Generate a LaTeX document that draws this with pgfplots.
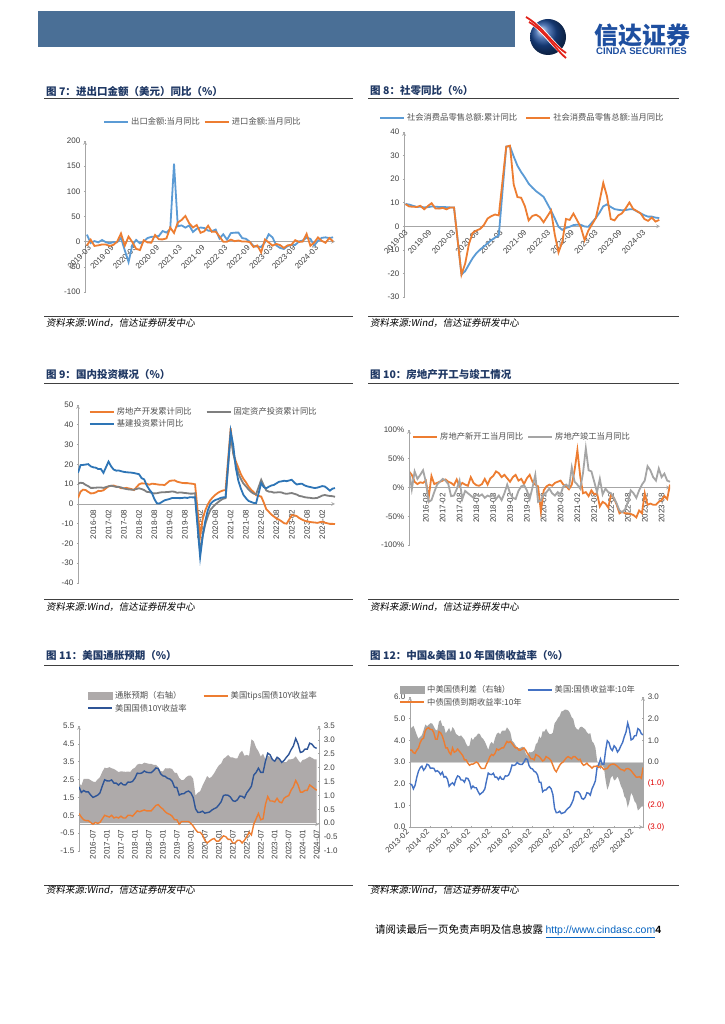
\documentclass[border=0pt]{standalone}
\usepackage{fontspec}
\setmainfont{Liberation Sans}
\newfontfamily\cjk{Noto Sans CJK SC}
\newfontfamily\cjki[FakeSlant=0.18]{Noto Sans CJK SC}
\usepackage{pgfplots}
\usepackage{pgfplotstable}
\pgfplotsset{compat=1.18}

\definecolor{cblue}{HTML}{5B9BD5}
\definecolor{corange}{HTML}{ED7D31}
\definecolor{cgray}{HTML}{7F7F7F}
\definecolor{clgray}{HTML}{A5A5A5}
\definecolor{c9blue}{HTML}{2E75B6}
\definecolor{cnavy}{HTML}{2F5597}
\definecolor{croyal}{HTML}{4472C4}
\definecolor{area11}{HTML}{AEAAAA}
\definecolor{area12}{HTML}{A6A6A6}
\definecolor{axc}{HTML}{A6A6A6}
\definecolor{tlc}{HTML}{404040}
\definecolor{lgc}{HTML}{505050}
\definecolor{titlec}{HTML}{1F3864}
\definecolor{rulec}{HTML}{404040}
\definecolor{hdr}{HTML}{4A6F96}
\definecolor{logob}{HTML}{1D4E9E}
\definecolor{logor}{HTML}{E2231A}
\definecolor{logot}{HTML}{1E4FA0}
\definecolor{negred}{HTML}{E00000}
\definecolor{linkc}{HTML}{0563C1}

\pgfplotsset{
  rep/.style={
    scale only axis,
    axis line style={axc, line width=0.7pt, -},
    tick style={axc, line width=0.6pt},
    tick align=outside,
    major tick length=2.5pt,
    ticklabel style={font=\fontsize{8}{9}\selectfont, text=tlc},
    /pgf/number format/assume math mode=true,
    legend style={draw=none, fill=none, font=\cjk\fontsize{8.3}{10}\selectfont, text=lgc},
    legend cell align=left,
    legend image code/.code={\draw[##1, line width=2pt] (0pt,0pt) -- (24pt,0pt);},
  },
  midx/.style={axis y line=left, axis x line=middle, xtick style={draw=none}},
}

% fig 7: export / import yoy, 2019-03 .. 2024-08
\pgfplotstableread{
ex im
14.0 -7.6
-2.7 4.0
1.1 -8.5
-1.3 -7.3
3.3 -5.6
-1.0 -5.6
-3.2 -8.5
-0.9 -6.4
-1.1 0.3
7.6 16.3
-17.2 -8.0
-40.6 10.0
-6.6 -0.9
3.5 -14.2
-3.3 -16.7
0.5 2.7
7.2 -1.4
9.5 -2.1
9.9 13.2
11.4 4.7
21.1 4.5
18.1 6.5
25.0 28.0
154.9 17.3
30.6 38.1
32.3 43.1
27.9 51.1
32.2 36.7
19.3 28.1
25.6 33.1
28.1 17.6
27.1 20.6
22.0 31.7
20.9 19.5
24.1 20.0
6.2 10.4
14.7 -0.1
3.9 0.0
16.9 4.1
17.9 1.0
18.0 2.3
7.1 0.3
5.7 0.3
-0.3 -0.7
-8.7 -10.6
-9.9 -7.5
-10.5 -21.3
-1.3 4.2
14.8 -1.4
8.5 -7.9
-7.5 -4.5
-12.4 -6.8
-14.5 -12.4
-8.8 -7.3
-6.2 -6.2
-6.4 3.0
0.5 -0.6
2.3 0.2
8.0 15.5
5.6 -8.2
-7.5 -1.9
1.5 8.4
7.6 1.8
8.6 -2.3
7.0 7.2
8.7 0.5
}\tabA

% fig 8: retail sales, x = months since 2019-01
\pgfplotstableread{
x cum mon
-2 9.5 9.4
-1 9.2 8.4
1 8.2 8.2
2 8.3 8.7
3 8.0 7.2
4 8.1 8.6
5 8.4 9.8
6 8.3 7.6
7 8.2 7.5
8 8.2 7.8
9 8.1 7.2
10 8.0 8.0
11 8.0 8.0
13 -20.5 -20.5
14 -19.0 -15.8
15 -16.2 -7.5
16 -13.5 -2.8
17 -11.4 -1.8
18 -9.9 -1.1
19 -8.6 0.5
20 -7.2 3.3
21 -5.9 4.3
22 -4.8 5.0
23 -3.9 4.6
25 33.8 33.8
26 33.9 34.2
27 29.6 17.7
28 25.7 12.4
29 23.0 12.1
30 20.7 8.5
31 18.1 2.5
32 16.4 4.4
33 14.9 4.9
34 13.7 3.9
35 12.5 1.7
37 6.7 6.7
38 3.3 -3.5
39 -0.2 -11.1
40 -1.5 -6.7
41 -0.7 3.1
42 -0.2 2.7
43 0.5 5.4
44 0.7 2.5
45 0.6 -0.5
46 -0.1 -5.9
47 -0.2 -1.8
49 3.5 3.5
50 5.8 10.6
51 8.5 18.4
52 9.3 12.7
53 8.2 3.1
54 7.3 2.5
55 7.0 4.6
56 6.8 5.5
57 6.9 7.6
58 7.2 10.1
59 7.2 7.4
61 5.5 5.5
62 4.7 3.1
63 4.1 2.3
64 4.1 3.7
65 3.7 2.0
66 3.5 2.7
}\tabB

% fig 9: investment, x = months since 2016-02
\pgfplotstableread{
x re fai inf
0 3.0 10.2 15.7
1 6.2 10.7 19.6
2 7.2 10.5 19.7
3 7.0 9.6 19.9
4 6.1 9.0 20.1
5 5.3 8.1 19.0
6 5.4 8.1 18.5
7 5.8 8.2 18.3
8 6.6 8.3 17.6
9 6.5 8.3 17.6
10 6.9 8.1 15.7
12 8.9 8.9 21.4
13 9.1 9.2 19.0
14 9.3 8.9 17.4
15 8.8 8.6 16.8
16 8.5 8.6 16.9
17 7.9 8.3 16.5
18 7.9 7.8 16.2
19 8.1 7.5 16.0
20 7.8 7.3 15.9
21 7.5 7.2 15.8
22 7.0 7.2 15.6
24 9.9 7.9 15.0
25 10.4 7.5 13.0
26 10.3 7.0 12.4
27 10.2 6.1 9.4
28 9.7 6.0 7.3
29 10.2 5.5 5.7
30 10.1 5.3 2.5
31 9.9 5.4 0.3
32 9.7 5.7 0.2
33 9.7 5.9 1.0
34 9.5 5.9 1.8
36 11.6 6.1 2.5
37 11.8 6.3 3.0
38 11.9 6.1 3.0
39 11.2 5.6 3.0
40 10.9 5.8 2.9
41 10.6 5.7 3.0
42 10.5 5.5 3.2
43 10.5 5.4 3.0
44 10.3 5.2 3.4
45 10.2 5.2 3.3
46 9.9 5.4 3.3
48 -16.3 -24.5 -26.9
49 -7.7 -16.1 -16.4
50 -3.3 -10.3 -8.8
51 -0.3 -6.3 -3.3
52 1.9 -3.1 -0.1
53 3.4 -1.6 1.2
54 4.6 -0.3 2.0
55 5.6 0.8 2.4
56 6.3 1.8 3.0
57 6.8 2.6 3.3
58 7.0 2.9 3.4
60 38.3 35.0 36.6
61 25.6 25.6 29.7
62 21.6 19.9 18.4
63 18.3 15.4 11.8
64 15.0 12.6 7.8
65 12.7 10.3 4.6
66 10.9 8.9 2.9
67 8.8 7.3 1.5
68 7.2 6.1 1.0
69 6.0 5.2 0.5
70 4.4 4.9 0.4
72 3.7 12.2 10.5
73 0.7 9.3 8.5
74 -2.7 6.8 7.9
75 -4.0 6.2 8.7
76 -5.4 6.1 9.3
77 -6.4 5.7 9.6
78 -7.4 5.8 10.4
79 -8.0 5.9 11.2
80 -8.8 5.8 11.4
81 -9.8 5.3 11.7
82 -10.0 5.1 11.5
84 -5.7 5.5 12.2
85 -5.8 5.1 10.8
86 -6.2 4.7 9.8
87 -7.2 4.0 10.1
88 -7.9 3.8 10.2
89 -8.5 3.4 9.4
90 -8.8 3.2 8.9
91 -9.1 3.1 8.6
92 -9.3 2.9 8.3
93 -9.4 2.9 8.0
94 -9.6 3.0 8.2
96 -9.0 4.2 9.0
97 -9.5 4.5 8.8
98 -9.8 4.2 7.8
99 -10.1 4.0 6.7
100 -10.1 3.9 7.7
101 -10.2 3.6 8.0
}\tabC

% fig 10: new starts / completions yoy (%)
\pgfplotstableread{
o g
28 30
22 -3
10 28
6 15
9 22
8 30
12 10
-18 -25
20 -22
6 -8
8 5
10 10
12 15
14 12
10 6
8 -15
4 -14
14 -3
2 12
8 -20
5 -6
3 -10
18 -14
8 -18
4 -12
3 -15
6 -12
15 -18
5 -14
16 -16
20 -12
28 -20
25 -14
18 -22
22 -10
16 5
10 -10
18 -18
22 -20
12 -6
15 2
6 4
16 -5
22 -20
10 0
5 22
2 -25
-42 -22
-5 -12
2 -8
5 -2
3 -10
8 -14
10 -8
12 -12
5 2
2 5
-3 0
5 35
30 10
65 5
20 -2
-10 25
-8 68
-15 30
-5 28
-12 10
-10 -8
-33 15
-25 -12
-28 -2
-35 -8
-12 -10
-18 -18
-30 -28
-45 -40
-42 -43
-45 -38
-45 -25
-46 -5
-48 -10
-52 -18
-40 -5
-45 5
-10 12
-30 37
-28 30
-30 18
-30 12
-25 33
-22 18
-15 24
-20 12
5 10
}\tabD

% fig 11: US breakeven (right), TIPS 10Y, UST 10Y; monthly from 2016-01
\pgfplotstableread{
be tips ust
1.45 0.60 2.09
1.35 0.40 1.78
1.60 0.25 1.89
1.60 0.20 1.81
1.60 0.20 1.81
1.55 0.10 1.64
1.50 0.00 1.50
1.48 0.10 1.56
1.58 0.05 1.63
1.66 0.10 1.76
1.85 0.30 2.14
2.00 0.50 2.49
1.98 0.45 2.43
2.02 0.40 2.42
1.98 0.50 2.48
1.95 0.35 2.30
1.90 0.40 2.30
1.84 0.35 2.19
1.87 0.45 2.32
1.86 0.35 2.21
1.85 0.35 2.20
1.86 0.50 2.36
1.85 0.50 2.35
1.95 0.45 2.40
2.00 0.60 2.58
2.11 0.75 2.86
2.14 0.70 2.84
2.12 0.75 2.87
2.18 0.80 2.98
2.16 0.75 2.91
2.14 0.75 2.89
2.14 0.75 2.89
2.10 0.90 3.00
2.10 1.05 3.15
2.02 1.10 3.12
1.88 0.95 2.83
1.86 0.85 2.71
1.98 0.70 2.68
1.97 0.60 2.57
1.98 0.55 2.53
1.95 0.45 2.40
1.82 0.25 2.07
1.81 0.25 2.06
1.63 0.00 1.63
1.55 0.15 1.70
1.56 0.15 1.71
1.66 0.15 1.81
1.71 0.15 1.86
1.71 0.05 1.76
1.60 -0.10 1.50
1.00 -0.30 0.87
1.10 -0.45 0.66
1.15 -0.45 0.67
1.35 -0.60 0.73
1.52 -0.90 0.62
1.70 -1.05 0.65
1.62 -0.95 0.68
1.68 -0.85 0.79
1.80 -0.80 0.87
1.95 -0.95 0.93
2.08 -0.95 1.08
2.15 -0.80 1.26
2.32 -0.65 1.61
2.38 -0.70 1.64
2.46 -0.85 1.62
2.37 -0.85 1.52
2.37 -1.05 1.32
2.33 -1.05 1.28
2.34 -0.90 1.37
2.53 -0.90 1.58
2.61 -1.05 1.56
2.43 -0.90 1.47
2.46 -0.70 1.76
2.43 -0.45 1.93
3.02 -0.60 2.13
2.95 0.00 2.75
2.72 0.30 2.90
2.59 0.60 3.14
2.40 0.25 2.90
2.50 0.30 2.90
2.29 1.10 3.52
2.44 1.55 3.98
2.39 1.30 3.89
2.25 1.30 3.62
2.22 1.25 3.53
2.37 1.45 3.75
2.32 1.25 3.66
2.24 1.20 3.46
2.20 1.45 3.57
2.20 1.55 3.75
2.30 1.60 3.90
2.30 1.90 4.17
2.32 2.10 4.38
2.41 2.45 4.80
2.28 2.20 4.50
2.17 1.80 4.02
2.28 1.80 4.06
2.30 1.90 4.21
2.35 1.90 4.21
2.40 2.20 4.54
2.35 2.10 4.48
2.30 2.00 4.31
2.30 1.90 4.25
}\tabE

% fig 12: CN-US spread (right), US 10Y, CN 10Y; monthly from 2013-02
\pgfplotstableread{
sp us cn
1.57 1.98 3.55
1.59 1.96 3.55
1.67 1.76 3.43
1.47 1.93 3.40
1.25 2.30 3.55
1.07 2.58 3.65
1.16 2.74 3.90
1.24 2.81 4.05
1.48 2.62 4.10
1.73 2.72 4.45
1.65 2.90 4.55
1.72 2.86 4.58
1.79 2.71 4.50
1.78 2.72 4.50
1.64 2.71 4.35
1.49 2.56 4.05
1.45 2.60 4.05
1.86 2.54 4.40
1.93 2.42 4.35
1.67 2.53 4.20
1.65 2.30 3.95
1.32 2.33 3.65
1.44 2.21 3.65
1.57 1.88 3.45
1.37 1.98 3.35
1.61 2.04 3.65
1.51 1.94 3.45
1.30 2.20 3.50
1.24 2.36 3.60
1.18 2.32 3.50
1.23 2.17 3.40
1.13 2.17 3.30
1.03 2.07 3.10
0.84 2.26 3.10
0.71 2.24 2.95
0.76 2.09 2.85
1.12 1.78 2.90
1.01 1.89 2.90
1.14 1.81 2.95
1.19 1.81 3.00
1.31 1.64 2.95
1.30 1.50 2.80
1.14 1.56 2.70
1.07 1.63 2.70
0.94 1.76 2.70
0.76 2.14 2.90
0.56 2.49 3.05
0.82 2.43 3.25
0.93 2.42 3.35
0.82 2.48 3.30
1.10 2.30 3.40
1.30 2.30 3.60
1.36 2.19 3.55
1.28 2.32 3.60
1.44 2.21 3.65
1.45 2.20 3.65
1.44 2.36 3.80
1.60 2.35 3.95
1.50 2.40 3.90
1.37 2.58 3.95
0.99 2.86 3.85
0.91 2.84 3.75
0.78 2.87 3.65
0.67 2.98 3.65
0.64 2.91 3.55
0.66 2.89 3.55
0.71 2.89 3.60
0.65 3.00 3.65
0.40 3.15 3.55
0.28 3.12 3.40
0.47 2.83 3.30
0.44 2.71 3.15
0.47 2.68 3.15
0.53 2.57 3.10
0.82 2.53 3.35
0.90 2.40 3.30
1.18 2.07 3.25
1.09 2.06 3.15
1.42 1.63 3.05
1.40 1.70 3.10
1.54 1.71 3.25
1.39 1.81 3.20
1.29 1.86 3.15
1.29 1.76 3.05
1.35 1.50 2.85
1.78 0.87 2.65
1.89 0.66 2.55
2.03 0.67 2.70
2.12 0.73 2.85
2.33 0.62 2.95
2.35 0.65 3.00
2.42 0.68 3.10
2.41 0.79 3.20
2.38 0.87 3.25
2.27 0.93 3.20
2.07 1.08 3.15
1.99 1.26 3.25
1.64 1.61 3.25
1.53 1.64 3.17
1.48 1.62 3.10
1.61 1.52 3.13
1.63 1.32 2.95
1.57 1.28 2.85
1.51 1.37 2.88
1.37 1.58 2.95
1.29 1.56 2.85
1.33 1.47 2.80
0.96 1.76 2.72
0.87 1.93 2.80
0.67 2.13 2.80
0.07 2.75 2.82
-0.15 2.90 2.75
-0.34 3.14 2.80
-0.15 2.90 2.75
-0.25 2.90 2.65
-0.84 3.52 2.68
-1.28 3.98 2.70
-1.07 3.89 2.82
-0.74 3.62 2.88
-0.63 3.53 2.90
-0.85 3.75 2.90
-0.80 3.66 2.86
-0.66 3.46 2.80
-0.85 3.57 2.72
-1.10 3.75 2.65
-1.26 3.90 2.64
-1.58 4.17 2.59
-1.70 4.38 2.68
-2.10 4.80 2.70
-1.83 4.50 2.67
-1.42 4.02 2.60
-1.56 4.06 2.50
-1.81 4.21 2.40
-1.91 4.21 2.30
-2.24 4.54 2.30
-2.16 4.48 2.32
-2.06 4.31 2.25
-2.05 4.25 2.75
}\tabF

\begin{document}
\begin{tikzpicture}
\begin{scope}[x=1pt,y=-1pt]
\path[use as bounding box, fill=white] (0,0) rectangle (724,1024);
% header band and logo
\fill[hdr] (38,11) rectangle (515,47);
\shade[ball color=logob] (548,37) circle (18);
\draw[white, line width=5pt] (527,19) .. controls (544,29) and (552,45) .. (567,56);
\draw[logor, line width=1.8pt] (526,17) .. controls (543,27) and (551,43) .. (566,53);
\draw[logor, line width=1.8pt] (529,22) .. controls (546,32) and (554,48) .. (566,58);
\node[anchor=west, inner sep=0, text=logot, font=\cjk\bfseries\fontsize{24}{25}\selectfont] at (594,35) {信达证券};
\node[anchor=west, inner sep=0, text=logot, font=\bfseries\fontsize{9.6}{10}\selectfont] at (596,51) {CINDA SECURITIES};

% titles
\begin{scope}[every node/.style={anchor=west, inner sep=0, text=titlec, font=\cjk\bfseries\fontsize{10.5}{12}\selectfont}]
\node at (46,91) {图 7：进出口金额（美元）同比（\%）};
\node at (370,91) {图 8：社零同比（\%）};
\node at (46,375) {图 9：国内投资概况（\%）};
\node at (370,375) {图 10：房地产开工与竣工情况};
\node at (46,655) {图 11：美国通胀预期（\%）};
\node at (370,655) {图 12：中国\&美国 10 年国债收益率（\%）};
\end{scope}
% rules
\begin{scope}[rulec, line width=0.8pt]
\draw (44,98) -- (353,98);   \draw (368,98) -- (679,98);
\draw (44,316) -- (353,316); \draw (368,316) -- (679,316);
\draw (44,383) -- (353,383); \draw (368,383) -- (679,383);
\draw (44,599) -- (353,599); \draw (368,599) -- (679,599);
\draw (44,665) -- (353,665); \draw (368,665) -- (679,665);
\draw (44,885) -- (353,885); \draw (368,885) -- (679,885);
\end{scope}
% sources
\begin{scope}[every node/.style={anchor=west, inner sep=0, text=black, font=\cjki\fontsize{9.5}{11}\selectfont}]
\node at (46,323) {资料来源:Wind，信达证券研发中心};
\node at (370,323) {资料来源:Wind，信达证券研发中心};
\node at (46,607) {资料来源:Wind，信达证券研发中心};
\node at (370,607) {资料来源:Wind，信达证券研发中心};
\node at (46,890) {资料来源:Wind，信达证券研发中心};
\node at (370,890) {资料来源:Wind，信达证券研发中心};
\end{scope}
% footer
\node[anchor=west, inner sep=0, font=\cjk\fontsize{10.5}{12}\selectfont] at (375,931)
  {请阅读最后一页免责声明及信息披露 {\rmfamily\color{linkc}\underline{http://www.cindasc.com}}{\rmfamily\bfseries 4}};
\end{scope}

% ---------- fig 7 ----------
\begin{axis}[rep, midx, at={(85pt,-292pt)}, anchor=south west, width=250pt, height=151pt,
  xmin=-0.5, xmax=65.5, ymin=-100, ymax=200, ytick={-100,-50,...,200},
  xtick={1,7,...,61},
  xticklabels={2019-03,2019-09,2020-03,2020-09,2021-03,2021-09,2022-03,2022-09,2023-03,2023-09,2024-03},
  xticklabel style={rotate=45, anchor=east, yshift=-2pt},
  legend columns=2, legend style={at={(0.06,1.126)}, anchor=west,
    /tikz/every even column/.append style={column sep=2pt}}]
\addplot[cblue, line width=1.8pt] table[x expr=\coordindex, y=ex] {\tabA};
\addlegendentry{出口金额:当月同比}
\addplot[corange, line width=1.8pt] table[x expr=\coordindex, y=im] {\tabA};
\addlegendentry{进口金额:当月同比}
\end{axis}

% ---------- fig 8 ----------
\begin{axis}[rep, midx, at={(404pt,-297pt)}, anchor=south west, width=256pt, height=165pt,
  xmin=-2.4, xmax=66.2, ymin=-30, ymax=40, ytick={-30,-20,...,40},
  xtick={-1.5,4.87,11.24,17.61,23.98,30.35,36.72,43.09,49.46,55.83,62.2},
  xticklabels={2019-03,2019-09,2020-03,2020-09,2021-03,2021-09,2022-03,2022-09,2023-03,2023-09,2024-03},
  xticklabel style={rotate=45, anchor=east, yshift=-2pt},
  legend columns=2, legend style={at={(-0.11,1.085)}, anchor=west,
    /tikz/every even column/.append style={column sep=6pt}}]
\addplot[cblue, line width=1.8pt] table[x=x, y=cum] {\tabB};
\addlegendentry{社会消费品零售总额:累计同比}
\addplot[corange, line width=1.8pt] table[x=x, y=mon] {\tabB};
\addlegendentry{社会消费品零售总额:当月同比}
\end{axis}

% ---------- fig 9 ----------
\begin{axis}[rep, midx, at={(78pt,-583pt)}, anchor=south west, width=257pt, height=178pt,
  xmin=0, xmax=101, ymin=-40, ymax=50, ytick={-40,-30,...,50},
  xtick={0,6,...,96},
  xticklabels={2016-02,2016-08,2017-02,2017-08,2018-02,2018-08,2019-02,2019-08,2020-02,2020-08,2021-02,2021-08,2022-02,2022-08,2023-02,2023-08,2024-02},
  xticklabel style={rotate=90, anchor=east, xshift=-1pt},
  legend columns=2, legend style={at={(0.03,1.01)}, anchor=north west,
    /tikz/every even column/.append style={column sep=12pt}}]
\addplot[corange, line width=1.8pt] table[x=x, y=re] {\tabC};
\addlegendentry{房地产开发累计同比}
\addplot[cgray, line width=1.8pt] table[x=x, y=fai] {\tabC};
\addlegendentry{固定资产投资累计同比}
\addplot[c9blue, line width=1.8pt] table[x=x, y=inf] {\tabC};
\addlegendentry{基建投资累计同比}
\end{axis}

% ---------- fig 10 ----------
\begin{axis}[rep, midx, at={(409pt,-545pt)}, anchor=south west, width=261pt, height=115pt,
  xmin=0, xmax=93, ymin=-100, ymax=100, ytick={-100,-50,...,100},
  yticklabel={\pgfmathprintnumber{\tick}\%},
  xtick={0,6,...,90},
  xticklabels={2016-02,2016-08,2017-02,2017-08,2018-02,2018-08,2019-02,2019-08,2020-02,2020-08,2021-02,2021-08,2022-02,2022-08,2023-02,2023-08},
  xticklabel style={rotate=90, anchor=east, xshift=-1pt},
  legend columns=2, legend style={at={(0.0,0.94)}, anchor=west,
    /tikz/every even column/.append style={column sep=2pt}}]
\addplot[corange, line width=1.8pt] table[x expr=\coordindex, y=o] {\tabD};
\addlegendentry{房地产新开工当月同比}
\addplot[clgray, line width=1.8pt] table[x expr=\coordindex, y=g] {\tabD};
\addlegendentry{房地产竣工当月同比}
\end{axis}

% ---------- fig 11 ----------
\begin{axis}[rep, at={(79pt,-851pt)}, anchor=south west, width=240pt, height=125pt,
  xmin=0, xmax=103, ymin=-1, ymax=3.5, axis y line=right, axis x line=none,
  ytick={-1,-0.5,...,3.5},
  yticklabel style={/pgf/number format/.cd, fixed, fixed zerofill, precision=1}]
\addplot[fill=area11, draw=none] table[x expr=\coordindex, y=be] {\tabE} \closedcycle;
\end{axis}
\begin{axis}[rep, midx, at={(79pt,-851pt)}, anchor=south west, width=240pt, height=125pt,
  xmin=0, xmax=103, ymin=-1.5, ymax=5.5, ytick={-1.5,-0.5,...,5.5},
  yticklabel style={/pgf/number format/.cd, fixed, fixed zerofill, precision=1},
  xtick={0,6,...,102},
  xticklabels={2016-01,2016-07,2017-01,2017-07,2018-01,2018-07,2019-01,2019-07,2020-01,2020-07,2021-01,2021-07,2022-01,2022-07,2023-01,2023-07,2024-01,2024-07},
  xticklabel style={rotate=90, anchor=east, xshift=-1pt},
  legend columns=2, legend style={at={(0.02,1.31)}, anchor=north west,
    /tikz/every even column/.append style={column sep=14pt}}]
\addlegendimage{legend image code/.code={\fill[area11] (0pt,-3.5pt) rectangle (24pt,3.5pt);}}
\addlegendentry{通胀预期（右轴）}
\addplot[corange, line width=1.4pt] table[x expr=\coordindex, y=tips] {\tabE};
\addlegendentry{美国tips国债10Y收益率}
\addplot[cnavy, line width=1.4pt] table[x expr=\coordindex, y=ust] {\tabE};
\addlegendentry{美国国债10Y收益率}
\end{axis}

% ---------- fig 12 ----------
\begin{axis}[rep, at={(410pt,-827pt)}, anchor=south west, width=233pt, height=130pt,
  xmin=0, xmax=137, ymin=-3, ymax=3, axis y line=right, axis x line=none,
  ytick={-3,-2,...,3},
  yticklabels={{\textcolor{negred}{(3.0)}},{\textcolor{negred}{(2.0)}},{\textcolor{negred}{(1.0)}},0.0,1.0,2.0,3.0}]
\addplot[fill=area12, draw=none] table[x expr=\coordindex, y=sp] {\tabF} \closedcycle;
\draw[gray!35, line width=0.6pt] (rel axis cs:0,0.5) -- (rel axis cs:1,0.5);
\end{axis}
\begin{axis}[rep, at={(410pt,-827pt)}, anchor=south west, width=233pt, height=130pt,
  axis y line=left, axis x line=bottom,
  xmin=0, xmax=137, ymin=0, ymax=6, ytick={0,1,...,6},
  yticklabel style={/pgf/number format/.cd, fixed, fixed zerofill, precision=1},
  xtick={0,12,...,132},
  xticklabels={2013-02,2014-02,2015-02,2016-02,2017-02,2018-02,2019-02,2020-02,2021-02,2022-02,2023-02,2024-02},
  xticklabel style={rotate=45, anchor=east},
  legend columns=2, legend style={at={(-0.06,1.12)}, anchor=north west,
    /tikz/every even column/.append style={column sep=3pt}}]
\addlegendimage{legend image code/.code={\fill[area12] (0pt,-3.5pt) rectangle (24pt,3.5pt);}}
\addlegendentry{中美国债利差（右轴）}
\addplot[croyal, line width=1.4pt] table[x expr=\coordindex, y=us] {\tabF};
\addlegendentry{美国:国债收益率:10年}
\addplot[corange, line width=1.4pt] table[x expr=\coordindex, y=cn] {\tabF};
\addlegendentry{中债国债到期收益率:10年}
\end{axis}
\end{tikzpicture}
\end{document}
